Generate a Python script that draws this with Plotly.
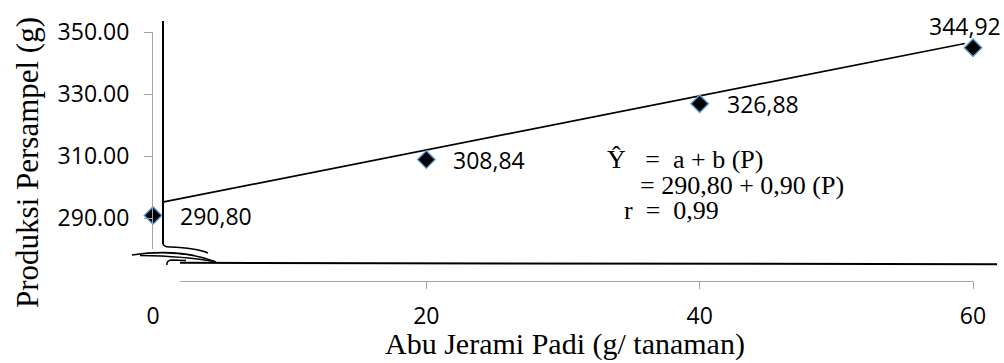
import plotly.graph_objects as go

# Abu jerami padi (g/tanaman) vs produksi per sampel (g)
abu_jerami = [0, 20, 40, 60]
produksi = [290.80, 308.84, 326.88, 344.92]

# ends of the drawn regression line
garis_p = [0.7, 59.4]
garis_y = [295.1, 346.3]

x_ticks = [0, 20, 40, 60]
y_ticks = [290, 310, 330, 350]

W, H = 1004, 363
ML, MR, MT, MB = 153, 31, 32, 82          # plot area: x 153..973, y 32..281
PW, PH = W - ML - MR, H - MT - MB


def px(x):
    return (x - ML) / PW


def py(y):
    return (H - MB - y) / PH


def path(points):
    return "M " + " L ".join(f"{px(a):.5f},{py(b):.5f}" for a, b in points)


def qpath(start, *segs):
    s = f"M {px(start[0]):.5f},{py(start[1]):.5f}"
    for (c, e) in segs:
        s += f" Q {px(c[0]):.5f},{py(c[1]):.5f} {px(e[0]):.5f},{py(e[1]):.5f}"
    return s


GRAY = "#a3a3a3"
TICK_FONT = dict(family="Open Sans", size=23, color="black")
SERIF = "Liberation Serif"
NB = "\u00a0"

fig = go.Figure()

fig.add_trace(go.Scatter(
    x=garis_p, y=garis_y, mode="lines",
    line=dict(color="black", width=1.7),
    hoverinfo="skip", cliponaxis=False, showlegend=False,
))

fig.add_trace(go.Scatter(
    x=abu_jerami, y=produksi, mode="markers",
    marker=dict(symbol="diamond", size=13.5, color="black",
                line=dict(color="#5b9bd5", width=1.4)),
    cliponaxis=False, showlegend=False,
))

# value labels
annotations = []
for i, (p, v) in enumerate(zip(abu_jerami, produksi)):
    label = f"{v:.2f}".replace(".", ",")
    if i < len(produksi) - 1:
        annotations.append(dict(x=p, y=v, xref="x", yref="y", text=label,
                                showarrow=False, xanchor="left", yanchor="middle",
                                xshift=25, font=TICK_FONT))
    else:
        annotations.append(dict(x=p, y=v, xref="x", yref="y", text=label,
                                showarrow=False, xanchor="center", yanchor="bottom",
                                xshift=-8, yshift=4, font=TICK_FONT))

# regression equation
EQ = dict(family=SERIF, size=26, color="black")
eq_lines = [
    ("Ŷ" + NB * 3 + "=" + NB * 2 + "a + b (P)", 605, 159),
    ("= 290,80 + 0,90 (P)", 638, 186),
    ("r" + NB * 2 + "=" + NB * 2 + "0,99", 622, 210),
]
for txt, xp, yp in eq_lines:
    annotations.append(dict(x=px(xp), y=py(yp), xref="paper", yref="paper",
                            text=txt, showarrow=False, xanchor="left",
                            yanchor="middle", font=EQ))

# axis titles
annotations.append(dict(x=px(565), y=py(344), xref="paper", yref="paper",
                        text="Abu Jerami Padi (g/ tanaman)", showarrow=False,
                        xanchor="center", yanchor="middle",
                        font=dict(family=SERIF, size=30, color="black")))
annotations.append(dict(x=px(27), y=py(163), xref="paper", yref="paper",
                        text="Produksi Persampel (g)", showarrow=False,
                        textangle=-90, xanchor="center", yanchor="middle",
                        font=dict(family=SERIF, size=31, color="black")))

shapes = [
    # blank out the start of the horizontal axis
    dict(type="rect", xref="paper", yref="paper", layer="above",
         x0=px(148), x1=px(180), y0=py(278), y1=py(292),
         fillcolor="white", line=dict(width=0)),
    # drawn vertical and horizontal axes
    dict(type="path", xref="paper", yref="paper", layer="above",
         path=path([(163, 21), (163, 244)]),
         line=dict(color="black", width=2)),
    dict(type="path", xref="paper", yref="paper", layer="above",
         path=path([(180, 262.8), (997, 264.3)]),
         line=dict(color="black", width=2)),
    # axis break marks
    dict(type="path", xref="paper", yref="paper", layer="above",
         path=qpath((163, 243), ((163, 247), (170, 247)), ((196, 248), (208, 253))),
         line=dict(color="black", width=1.6)),
    dict(type="path", xref="paper", yref="paper", layer="above",
         path=qpath((132, 255), ((180, 248), (216, 262))),
         line=dict(color="black", width=1.6)),
    dict(type="path", xref="paper", yref="paper", layer="above",
         path=qpath((140, 255.5), ((185, 256), (216, 262))),
         line=dict(color="black", width=1.6)),
    dict(type="path", xref="paper", yref="paper", layer="above",
         path=qpath((167, 265), ((166, 260), (173, 260))) + f" L {px(186):.5f},{py(260.5):.5f}",
         line=dict(color="black", width=1.6)),
]

fig.update_layout(
    width=W, height=H,
    margin=dict(l=ML, r=MR, t=MT, b=MB),
    paper_bgcolor="white", plot_bgcolor="white",
    xaxis=dict(
        range=[0, 60], domain=[0, 1], anchor="free", position=0,
        tickvals=x_ticks, ticktext=[str(t) for t in x_ticks],
        ticks="outside", ticklen=7, tickcolor=GRAY, tickwidth=1,
        showline=True, linecolor=GRAY, linewidth=1,
        showgrid=False, zeroline=False, tickfont=TICK_FONT,
        ticklabelstandoff=7,
    ),
    yaxis=dict(
        range=[280, 350], domain=[py(249), 1], anchor="x",
        tickvals=y_ticks, tickformat=".2f",
        ticks="outside", ticklen=8, tickcolor=GRAY, tickwidth=1,
        showline=True, linecolor=GRAY, linewidth=1,
        showgrid=False, zeroline=False, tickfont=TICK_FONT,
        ticklabelstandoff=10,
    ),
    annotations=annotations,
    shapes=shapes,
    showlegend=False,
)

fig.write_html("out.html")
